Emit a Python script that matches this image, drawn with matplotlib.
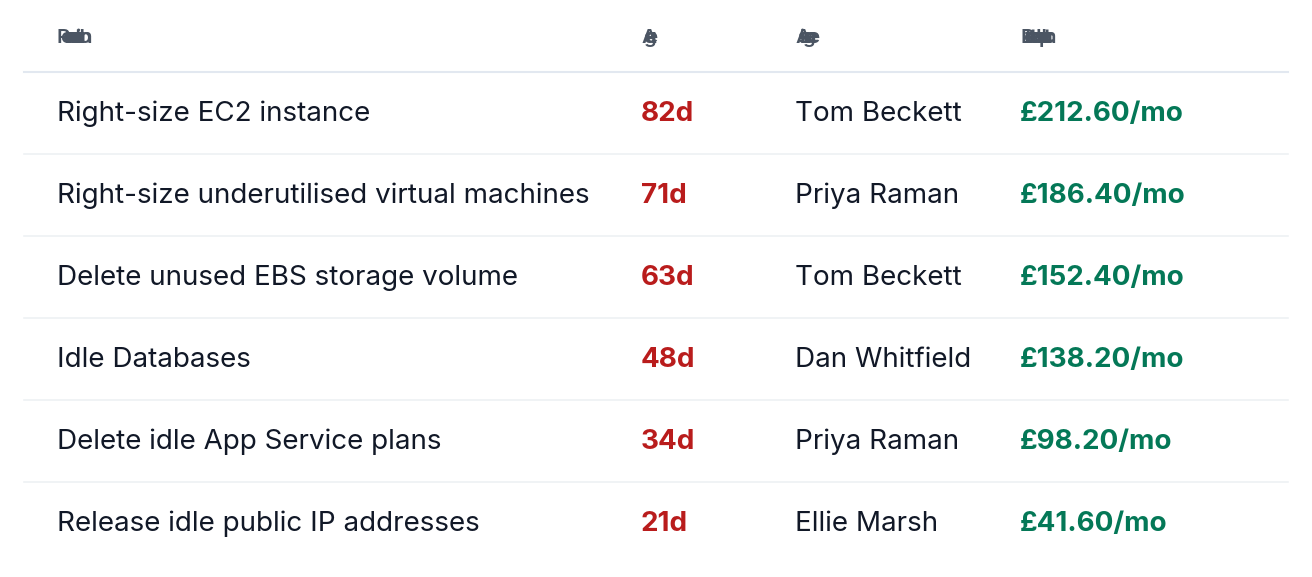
import matplotlib
matplotlib.use("Agg")
import matplotlib.pyplot as plt
from matplotlib.textpath import TextPath
from matplotlib.font_manager import FontProperties

headers = ["Recommendation", "Age", "Assignee", "Detected Impact"]
recommendations = ["Right-size EC2 instance", "Right-size underutilised virtual machines",
                   "Delete unused EBS storage volume", "Idle Databases",
                   "Delete idle App Service plans", "Release idle public IP addresses"]
ages = [82, 71, 63, 48, 34, 21]
assignees = ["Tom Beckett", "Priya Raman", "Tom Beckett", "Dan Whitfield", "Priya Raman", "Ellie Marsh"]
impacts = [212.60, 186.40, 152.40, 138.20, 98.20, 41.60]

W, H = 1312, 577
fig = plt.figure(figsize=(W/100, H/100), dpi=100)
ax = fig.add_axes([0, 0, 1, 1])
ax.set_xlim(0, W); ax.set_ylim(H, 0); ax.axis("off")

colx = [57, 641, 795, 1020]
font = "Inter"
hfs = 14.8
hprop = FontProperties(family=font, weight="semibold", size=hfs)
spacing = 1.6  # px
for x, h in zip(colx, headers):
    for i, ch in enumerate(h):
        if ch == " ":
            continue
        pre = h[:i]
        wpt = TextPath((0, 0), pre, prop=hprop).get_extents().x1 if pre.strip() else 0
        # account for trailing spaces in prefix
        wpt = TextPath((0, 0), pre + "|", prop=hprop).get_extents().x0 if pre else 0
        xpx = x + wpt * 100 / 72 + i * spacing
        ax.text(xpx, 38, ch, fontproperties=hprop, color="#4b5563", va="center", ha="left")
ax.plot([24, 1288], [72, 72], color="#e2e8f0", lw=1.5)

y0, dy = 114, 82
fs = 20
for i in range(len(recommendations)):
    y = y0 + i*dy
    ax.text(colx[0], y, recommendations[i], fontsize=fs, color="#111827", family=font, va="center")
    ax.text(colx[1], y, f"{ages[i]}d", fontsize=fs, fontweight="bold", color="#b91c1c", family=font, va="center")
    ax.text(colx[2], y, assignees[i], fontsize=fs, color="#111827", family=font, va="center")
    ax.text(colx[3], y, f"£{impacts[i]:.2f}/mo", fontsize=fs, fontweight="bold", color="#047857", family=font, va="center")
    if i < len(recommendations) - 1:
        ax.plot([24, 1288], [y - 1 + dy/2, y - 1 + dy/2], color="#eef1f4", lw=1.2)

fig.savefig("out.png", dpi=100, facecolor="white")
